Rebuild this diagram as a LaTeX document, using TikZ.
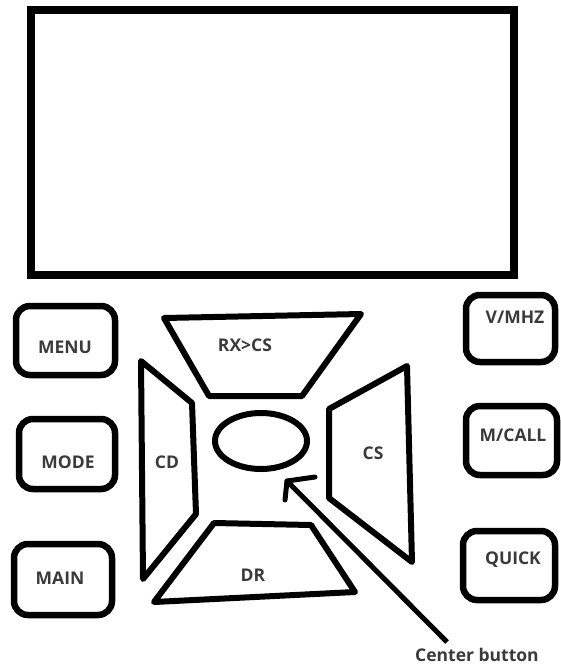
\documentclass[tikz,border=0pt]{standalone}
\usepackage{fontspec}
\setmainfont{Open Sans}
\definecolor{txt}{HTML}{3A3A3A}
\tikzset{
  btn/.style={draw=black, line width=6.5pt, rounded corners=14pt, inner sep=0pt},
  pad/.style={draw=black, line width=6pt, line join=round},
  lbl/.style={text=txt, font=\bfseries\fontsize{17.5}{20}\selectfont, inner sep=0pt},
  screen/.style={draw=black, line width=7.5pt, inner sep=0pt}
}
\begin{document}
\begin{tikzpicture}[x=1pt,y=-1pt]
\useasboundingbox (0,0) rectangle (561,665);
% screen
\node[screen, minimum width=483pt, minimum height=265pt] (scr) at (272.5,142.5) {};
% left buttons
\node[btn, minimum width=99pt, minimum height=69pt] (menu) at (65.5,340.5) {};
\node[lbl] (menut) at (65,347) {MENU};
\node[btn, minimum width=96pt, minimum height=70pt] (mode) at (67,454) {};
\node[lbl] (modet) at (68,462) {MODE};
\node[btn, minimum width=98pt, minimum height=71pt] (main) at (63,579.5) {};
\node[lbl] (maint) at (60,578) {MAIN};
% right buttons
\node[btn, minimum width=89pt, minimum height=67pt] (vmhz) at (510.5,328.5) {};
\node[lbl] (vmhzt) at (515,317) {V/MHZ};
\node[btn, minimum width=91pt, minimum height=69pt] (mcall) at (511.5,440.5) {};
\node[lbl] (mcallt) at (513,435) {M/CALL};
\node[btn, minimum width=92pt, minimum height=69pt] (quick) at (509,565.5) {};
\node[lbl] (quickt) at (513,560) {QUICK};
% d-pad
\draw[pad] (164,318) -- (361,314) -- (302,396) -- (209,396) -- cycle;
\node[lbl] (rx) at (245,345) {RX>CS};
\draw[pad] (141,361) -- (192,403) -- (196,514) -- (143,579) -- cycle;
\node[lbl] (cd) at (167,462) {CD};
\draw[pad] (407,366) -- (412,562) -- (329,498) -- (329,409) -- cycle;
\node[lbl] (cs) at (373,453) {CS};
\draw[pad] (214,523) -- (311,525) -- (355,592) -- (154,602) -- cycle;
\node[lbl] (dr) at (253,575) {DR};
% center button
\draw[pad] (261,441) ellipse [x radius=46pt, y radius=28pt];
\node[lbl] (cbt) at (477,655) {Center button};
\coordinate (tip) at (287,481);
\coordinate (tail) at (447,642);
\draw[line width=5pt] (tail) -- (tip);
\draw[line width=5pt, line cap=round] (tip) -- (315,477);
\draw[line width=5pt, line cap=round] (tip) -- (285,500);
\end{tikzpicture}
\end{document}
